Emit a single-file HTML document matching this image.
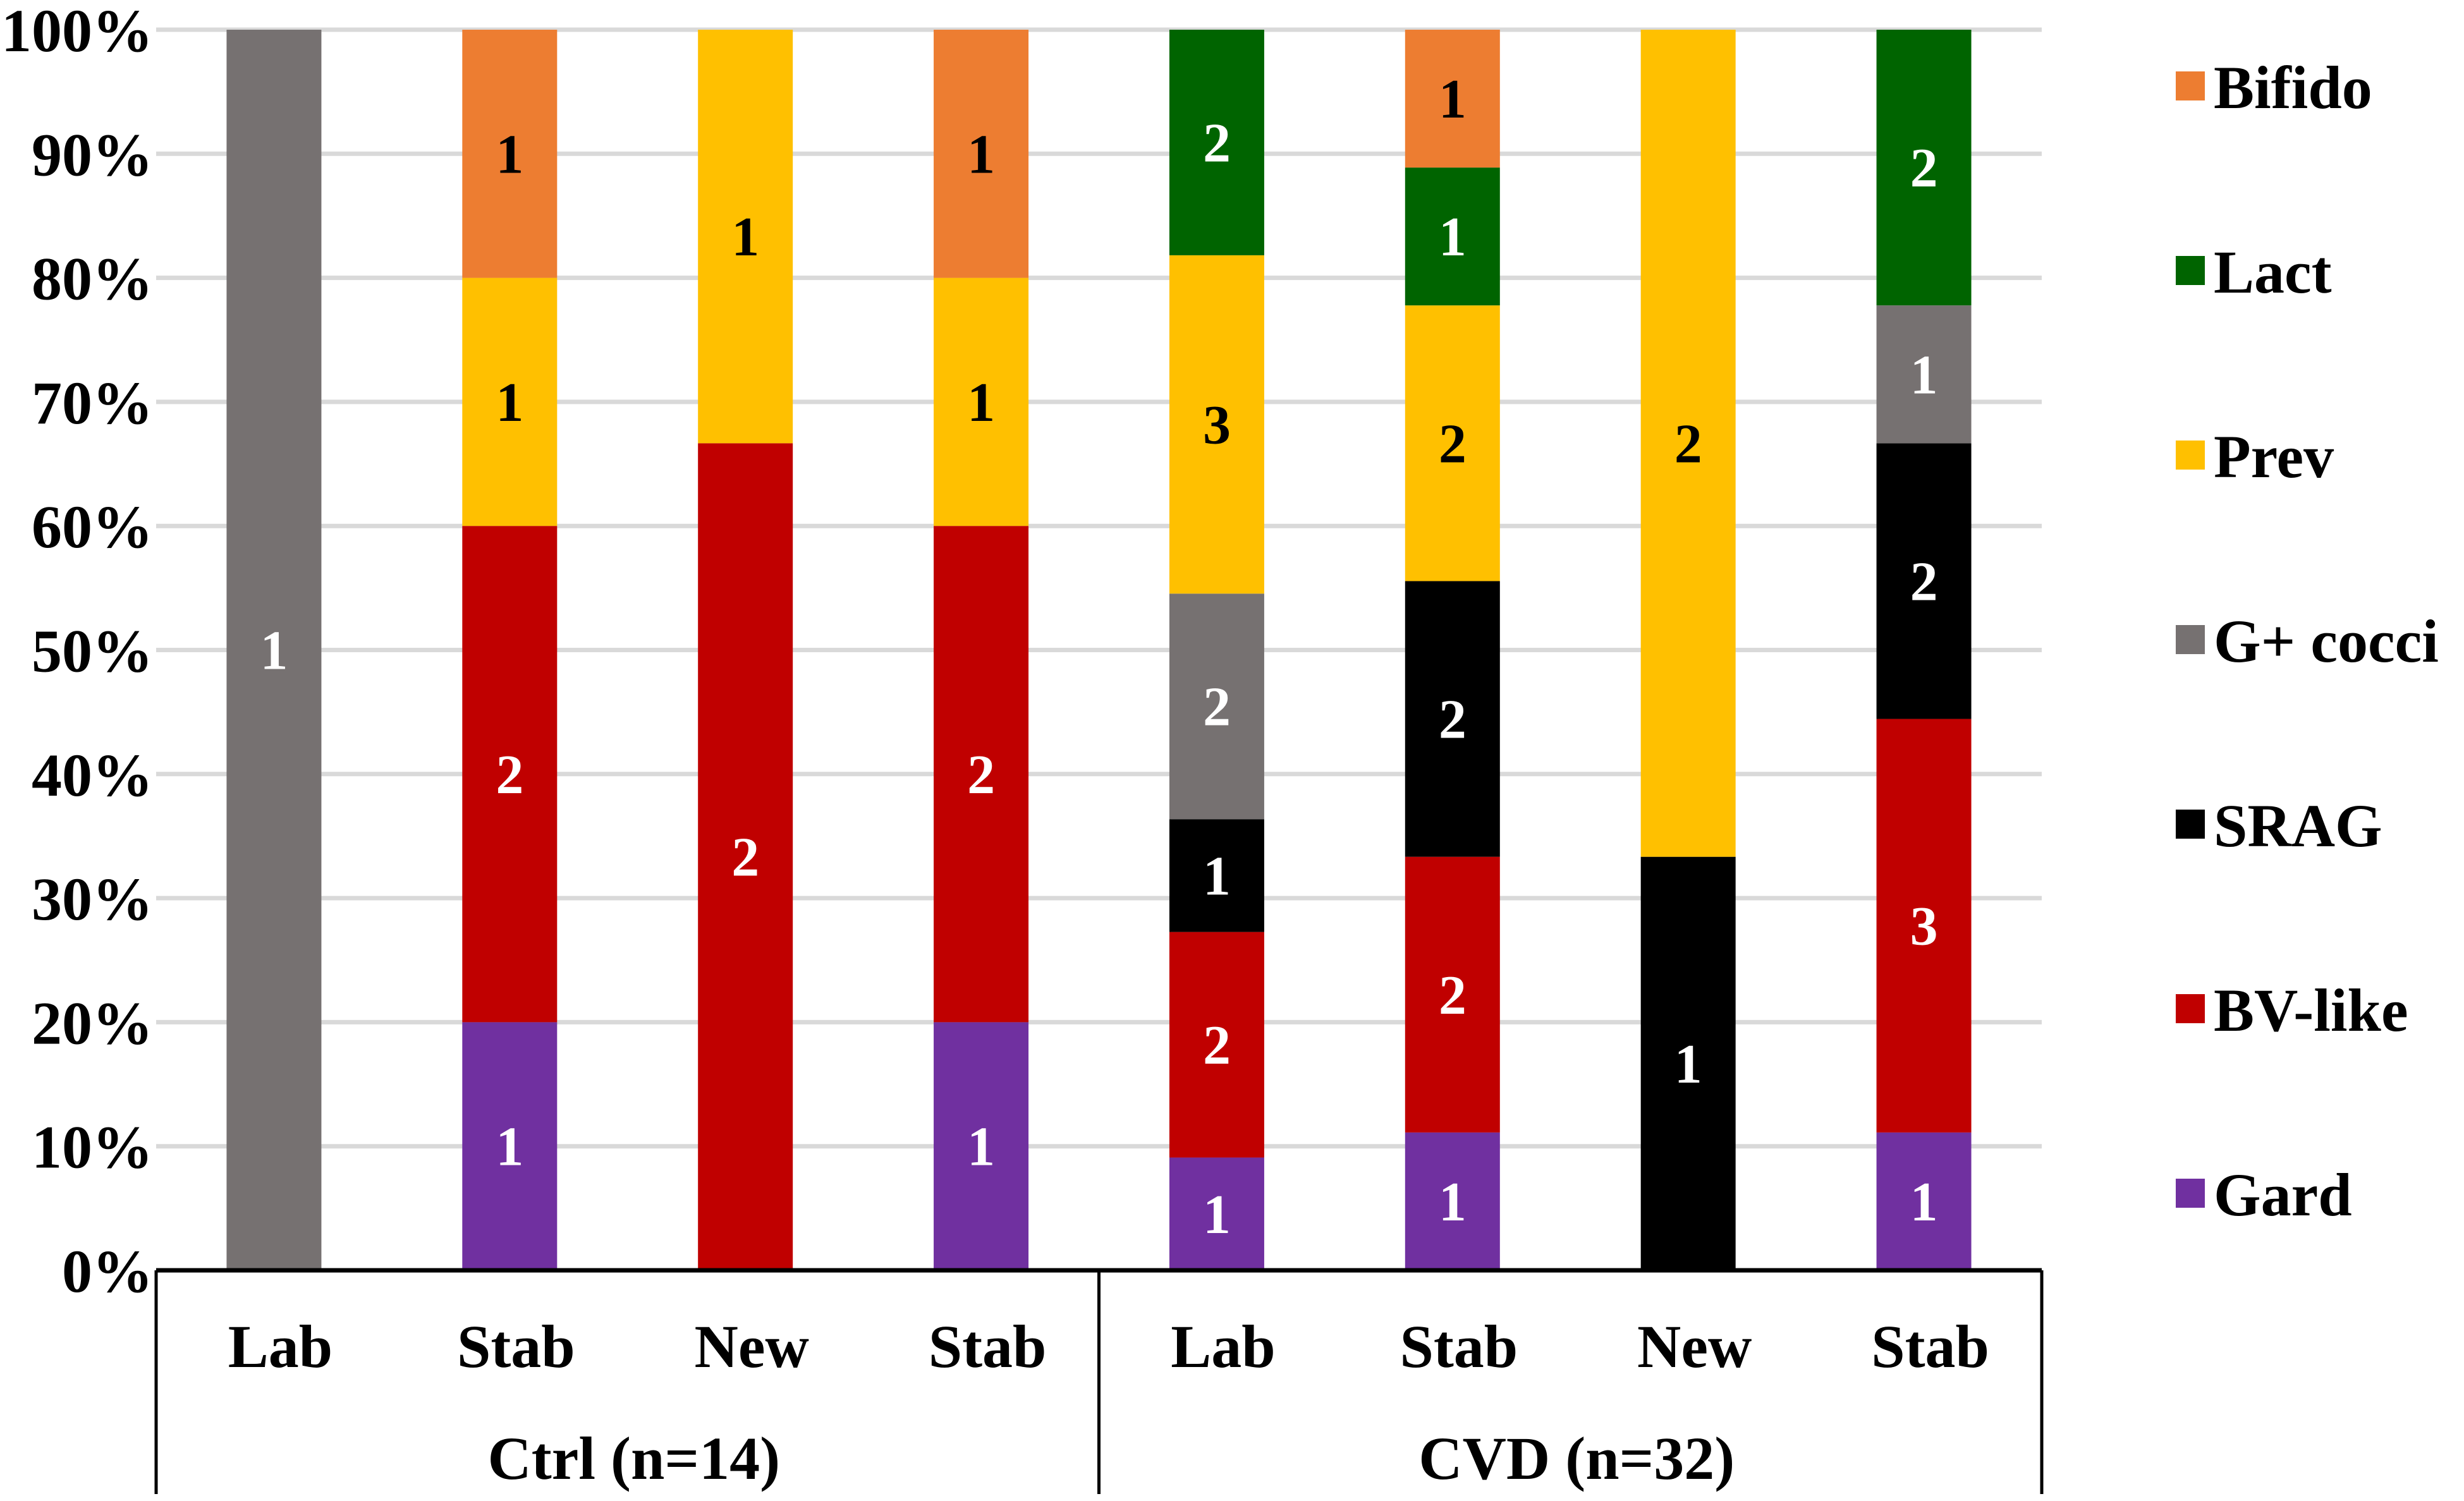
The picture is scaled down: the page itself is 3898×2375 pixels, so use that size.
<!DOCTYPE html>
<html><head><meta charset="utf-8"><style>
html,body{margin:0;padding:0;background:#fff}
svg{display:block}
svg text{font-family:"Liberation Serif","DejaVu Serif Condensed","DejaVu Serif",serif;font-weight:bold;font-stretch:condensed}
</style></head><body>
<svg id="chart" width="3898" height="2375" viewBox="0 0 3898 2375" xmlns="http://www.w3.org/2000/svg"></svg>
<script>
const categories = ["Lab","Stab","New","Stab","Lab","Stab","New","Stab"];
const groups = ["Ctrl (n=14)","CVD (n=32)"];
const seriesNames = ["Gard","BV-like","SRAG","G+ cocci","Prev","Lact","Bifido"];
const gard   = [0,1,0,1,1,1,0,1];
const bvlike = [0,2,2,2,2,2,0,3];
const srag   = [0,0,0,0,1,2,1,2];
const gcocci = [1,0,0,0,2,0,0,1];
const prev   = [0,1,1,1,3,2,2,0];
const lact   = [0,0,0,0,2,1,0,2];
const bifido = [0,1,0,1,0,1,0,0];
const yTicks = [0,10,20,30,40,50,60,70,80,90,100];

const series = [gard,bvlike,srag,gcocci,prev,lact,bifido];
const colors = ["#7030A0","#C00000","#000000","#767171","#FFC000","#006400","#ED7D31"];
const labelColors = ["#fff","#fff","#fff","#fff","#000","#fff","#000"];
const NS="http://www.w3.org/2000/svg";
const svg=document.getElementById('chart');
const L=247,R=3230,Y0=2010,Y100=47;
const catW=(R-L)/categories.length, barW=150;
const yS=p=>Y0-(Y0-Y100)*p/100;
const xC=i=>L+catW*(i+0.5);
function mk(t,a,txt){const e=document.createElementNS(NS,t);for(const k in a)e.setAttribute(k,a[k]);if(txt!==undefined)e.textContent=txt;svg.appendChild(e);return e;}

yTicks.forEach(t=>{
  if(t>0){const g=mk('line',{x1:L,x2:R,y1:yS(t),y2:yS(t),stroke:'#D9D9D9','stroke-width':7});
  
  }
  const tx=mk('text',{x:242,y:yS(t)+34,'text-anchor':'end','font-size':96,fill:'#000'},t+'%');
  
  
});

categories.forEach((c,i)=>{
  let total=0; series.forEach(s=>total+=s[i]);
  let acc=0;
  series.forEach((s,k)=>{
    if(!s[i])return;
    const p0=acc/total*100, p1=(acc+s[i])/total*100; acc+=s[i];
    const r=mk('rect',{x:xC(i)-barW/2,y:yS(p1),width:barW,height:yS(p0)-yS(p1),fill:colors[k]});
    
    
    const lb=mk('text',{x:xC(i),y:(yS(p0)+yS(p1))/2+30,'text-anchor':'middle','font-size':88,fill:labelColors[k]},s[i]);
    
    
  });
  const cl=mk('text',{x:xC(i)+10,y:2163,'text-anchor':'middle','font-size':96,fill:'#000'},c);
  
  
});

const ax=mk('line',{x1:L,x2:R,y1:Y0,y2:Y0,stroke:'#000','stroke-width':7});


[L,(L+R)/2,R].forEach((x,j)=>{
  const v=mk('line',{x1:x,x2:x,y1:Y0,y2:2364,stroke:'#000','stroke-width':5});
  
  
});
groups.forEach((g,j)=>{
  const gx=L+(R-L)/2*(j+0.5);
  const t=mk('text',{x:gx+10,y:2340,'text-anchor':'middle','font-size':96,fill:'#000'},g);
  
  
});

const legOrder=[6,5,4,3,2,1,0];
legOrder.forEach((k,j)=>{
  const cy=137+j*292;
  const sw=mk('rect',{x:3442,y:cy-24,width:46,height:46,fill:colors[k]});
  
  
  const t=mk('text',{x:3502,y:cy+34,'font-size':96,fill:'#000'},seriesNames[k]);
  
  
});
</script>
</body></html>
